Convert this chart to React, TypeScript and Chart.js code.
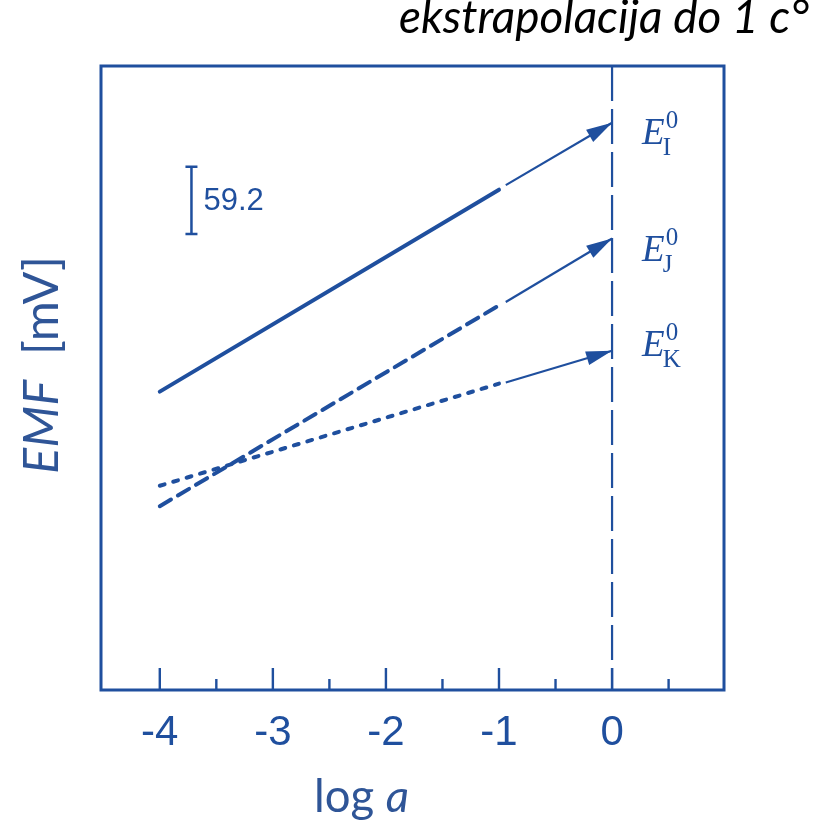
import React, { useEffect, useRef } from "react";
import { Chart, registerables } from "chart.js";

Chart.register(...registerables);

// ---- data ----
const xTicks = [-4, -3, -2, -1, 0];
const xMinorTicks = [-3.5, -2.5, -1.5, -0.5, 0.5];
const xRange = [-4.52, 0.99];
const yRange = [0, 550];

// measured (patterned, thick) segments
const measuredX = [-4, -1];
const emfI = [263, 441];
const emfJ = [162, 339];
const emfK = [180, 270];

// extrapolated (thin, arrow) segments
const extrapX = [-0.94, 0];
const extrapI = [445, 500];
const extrapJ = [342, 398];
const extrapK = [271, 299];

const seriesNames = ["I", "J", "K"];
const labelEmf = [481, 378, 294];

const scaleBarX = -3.72;
const scaleBarEmf = [402, 461.2];
const scaleBarLabel = "59.2";

const titleText = "ekstrapolacija do 1 c°";
const xTitleMain = "log ";
const xTitleItalic = "a";
const yTitleItalic = "EMF";
const yTitleMain = "  [mV]";

const INK = "#1f4f9e";
const LABEL_BLUE = "#2f5597";

function pts(xs: number[], ys: number[]) {
  return xs.map((x, i) => ({ x, y: ys[i] }));
}

const overlayPlugin = {
  id: "overlay",
  afterDatasetsDraw(chart: any) {
    const { ctx, chartArea } = chart;
    const xs = chart.scales.x;
    const ys = chart.scales.y;
    ctx.save();

    // box
    ctx.strokeStyle = INK;
    ctx.lineWidth = 3;
    ctx.setLineDash([]);
    ctx.strokeRect(chartArea.left, chartArea.top, chartArea.right - chartArea.left, chartArea.bottom - chartArea.top);

    // inner ticks
    ctx.lineWidth = 2.4;
    ctx.beginPath();
    xTicks.forEach((v) => {
      const px = xs.getPixelForValue(v);
      ctx.moveTo(px, chartArea.bottom);
      ctx.lineTo(px, chartArea.bottom - 22);
    });
    xMinorTicks.forEach((v) => {
      const px = xs.getPixelForValue(v);
      ctx.moveTo(px, chartArea.bottom);
      ctx.lineTo(px, chartArea.bottom - 11);
    });
    ctx.stroke();

    // arrowheads
    ctx.fillStyle = INK;
    [extrapI, extrapJ, extrapK].forEach((s) => {
      const x0 = xs.getPixelForValue(extrapX[0]);
      const y0 = ys.getPixelForValue(s[0]);
      const x1 = xs.getPixelForValue(extrapX[1]);
      const y1 = ys.getPixelForValue(s[1]);
      const a = Math.atan2(y1 - y0, x1 - x0);
      const len = 26;
      const hw = 7;
      const bx = x1 - len * Math.cos(a);
      const by = y1 - len * Math.sin(a);
      ctx.beginPath();
      ctx.moveTo(x1, y1);
      ctx.lineTo(bx + hw * Math.sin(a), by - hw * Math.cos(a));
      ctx.lineTo(bx - hw * Math.sin(a), by + hw * Math.cos(a));
      ctx.closePath();
      ctx.fill();
    });

    // scale bar
    const sbx = xs.getPixelForValue(scaleBarX);
    const sb0 = ys.getPixelForValue(scaleBarEmf[0]);
    const sb1 = ys.getPixelForValue(scaleBarEmf[1]);
    ctx.lineWidth = 2.5;
    ctx.beginPath();
    ctx.moveTo(sbx, sb0);
    ctx.lineTo(sbx, sb1);
    ctx.moveTo(sbx - 6, sb0);
    ctx.lineTo(sbx + 6, sb0);
    ctx.moveTo(sbx - 6, sb1);
    ctx.lineTo(sbx + 6, sb1);
    ctx.stroke();
    ctx.font = "31px 'Liberation Sans', Arial, sans-serif";
    ctx.textBaseline = "middle";
    ctx.textAlign = "left";
    ctx.fillText(scaleBarLabel, sbx + 12, (sb0 + sb1) / 2 + 1);

    // E labels
    const tipX = xs.getPixelForValue(extrapX[1]);
    ctx.textBaseline = "alphabetic";
    seriesNames.forEach((n, i) => {
      const by = ys.getPixelForValue(labelEmf[i]);
      const ex = tipX + 30;
      ctx.font = "italic 37px 'Liberation Serif', serif";
      ctx.fillText("E", ex, by);
      const ew = ctx.measureText("E").width;
      ctx.font = "25px 'Liberation Serif', serif";
      ctx.fillText("0", ex + ew + 1, by - 16);
      ctx.fillText(n, ex + ew - 2, by + 11);
    });

    // title
    ctx.fillStyle = "#000000";
    ctx.font = "italic 100px Lato, sans-serif";
    let w = ctx.measureText(titleText).width;
    const tSize = (100 * 410) / w;
    ctx.font = `italic ${tSize}px Lato, sans-serif`;
    ctx.textAlign = "right";
    ctx.fillText(titleText, 809, 33);

    // x title
    ctx.fillStyle = LABEL_BLUE;
    ctx.textAlign = "left";
    ctx.font = "100px Lato, sans-serif";
    const wm = ctx.measureText(xTitleMain).width;
    ctx.font = "italic 100px Lato, sans-serif";
    const wi = ctx.measureText(xTitleItalic).width;
    const xs2 = (100 * 95) / (wm + wi);
    ctx.font = `${xs2}px Lato, sans-serif`;
    ctx.fillText(xTitleMain, 314, 812);
    ctx.font = `italic ${xs2}px Lato, sans-serif`;
    ctx.fillText(xTitleItalic, 314 + (wm * xs2) / 100, 812);

    // y title
    ctx.font = "italic 100px Lato, sans-serif";
    const yi = ctx.measureText(yTitleItalic).width;
    ctx.font = "100px Lato, sans-serif";
    const ym = ctx.measureText(yTitleMain).width;
    const ysz = (100 * 218) / (yi + ym);
    const total = ((yi + ym) * ysz) / 100;
    ctx.translate(58, 365);
    ctx.rotate(-Math.PI / 2);
    ctx.font = `italic ${ysz}px Lato, sans-serif`;
    ctx.fillText(yTitleItalic, -total / 2, 0);
    ctx.font = `${ysz}px Lato, sans-serif`;
    ctx.fillText(yTitleMain, -total / 2 + (yi * ysz) / 100, 0);

    ctx.restore();
  },
};

export default function App() {
  const ref = useRef<HTMLCanvasElement | null>(null);

  useEffect(() => {
    document.body.style.margin = "0";
    const canvas = ref.current;
    if (!canvas) return;
    const thick = {
      borderColor: INK,
      borderWidth: 4,
      pointRadius: 0,
      fill: false,
      tension: 0,
      borderCapStyle: "round" as const,
    };
    const thin = {
      borderColor: INK,
      borderWidth: 2.2,
      pointRadius: 0,
      fill: false,
      tension: 0,
    };
    const chart = new Chart(canvas, {
      type: "line",
      data: {
        datasets: [
          { ...thick, label: "I", data: pts(measuredX, emfI) },
          { ...thick, label: "J", data: pts(measuredX, emfJ), borderDash: [13, 8] },
          { ...thick, label: "K", data: pts(measuredX, emfK), borderDash: [5, 9] },
          { ...thin, label: "I extrap", data: pts(extrapX, extrapI) },
          { ...thin, label: "J extrap", data: pts(extrapX, extrapJ) },
          { ...thin, label: "K extrap", data: pts(extrapX, extrapK) },
          {
            ...thin,
            label: "c = 1",
            data: [
              { x: 0, y: yRange[1] },
              { x: 0, y: yRange[0] },
            ],
            borderDash: [35, 8],
          },
        ],
      },
      options: {
        animation: false,
        responsive: false,
        maintainAspectRatio: false,
        layout: { padding: { left: 101, right: 94, top: 66, bottom: 0 } },
        plugins: {
          legend: { display: false },
          tooltip: { enabled: false },
          title: { display: false },
        },
        scales: {
          x: {
            type: "linear",
            min: xRange[0],
            max: xRange[1],
            grid: { display: false, drawTicks: false },
            border: { display: false },
            afterBuildTicks: (scale: any) => {
              scale.ticks = xTicks.map((v) => ({ value: v }));
            },
            afterFit: (scale: any) => {
              scale.height = 136;
            },
            ticks: {
              color: INK,
              padding: 22,
              font: { family: "'Liberation Sans', Arial, sans-serif", size: 42, lineHeight: 1 },
              callback: (v: any) => String(v),
              maxRotation: 0,
            },
          },
          y: {
            type: "linear",
            display: false,
            min: yRange[0],
            max: yRange[1],
          },
        },
      },
      plugins: [overlayPlugin],
    });
    return () => chart.destroy();
  }, []);

  return (
    <div style={{ width: 818, height: 826, position: "relative", background: "#fff" }}>
      <canvas ref={ref} width={818} height={826} style={{ display: "block" }} />
    </div>
  );
}
